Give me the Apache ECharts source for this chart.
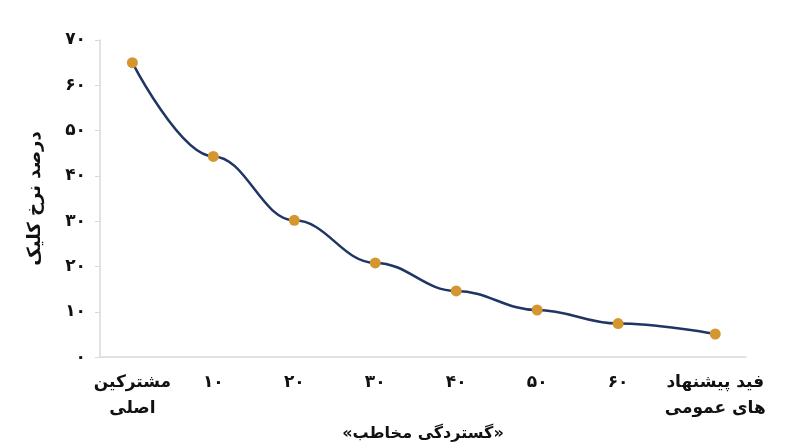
<!DOCTYPE html><html><head><meta charset="utf-8"><script src="https://cdn.jsdelivr.net/npm/echarts@6/dist/echarts.min.js"></script></head><body style="margin:0"><div id="c" style="width:800px;height:447px"></div><script>
const xPos=[0,10,20,30,40,50,60,72];
const xLabels=['مشترکین\nاصلی','۱۰','۲۰','۳۰','۴۰','۵۰','۶۰','فید پیشنهاد\nهای عمومی'];
const ctr=[65,44.3,30.2,20.8,14.6,10.4,7.4,5.1];
const fa=n=>String(n).replace(/\d/g,d=>'۰۱۲۳۴۵۶۷۸۹'[d]);
const F='DejaVu Sans';
const ch=echarts.init(document.getElementById('c'));
ch.setOption({
grid:{left:100,right:54,top:40,bottom:88},
xAxis:{type:'value',min:-4,max:75.8,splitLine:{show:false},
 axisLine:{show:true,onZero:false,lineStyle:{color:'#d9d9d9',width:1.5}},axisTick:{show:false},
 axisLabel:{customValues:xPos,color:'#111',fontFamily:F,fontWeight:'bold',fontSize:17,lineHeight:26,margin:12,
  formatter:v=>xLabels[xPos.indexOf(v)]},
 name:'«گستردگی مخاطب»',nameLocation:'middle',nameGap:52,nameTextStyle:{color:'#111',fontFamily:F,fontWeight:'bold',fontSize:16}},
yAxis:{type:'value',min:0,max:70,interval:10,splitLine:{show:false},
 axisLine:{show:true,onZero:false,lineStyle:{color:'#d9d9d9',width:1.5}},axisTick:{show:true,lineStyle:{color:'#d9d9d9'}},
 axisLabel:{color:'#111',fontFamily:F,fontWeight:'bold',fontSize:17,margin:14,formatter:v=>fa(v)},
 name:'درصد نرخ کلیک',nameLocation:'middle',nameGap:56,nameTextStyle:{color:'#111',fontFamily:F,fontWeight:'bold',fontSize:18}},
series:[{type:'line',smooth:0.4,smoothMonotone:'x',data:xPos.map((x,i)=>[x,ctr[i]]),symbol:'circle',symbolSize:11,
 lineStyle:{color:'#1f3564',width:2.5},itemStyle:{color:'#d4962e'}}]
});
</script></body></html>
